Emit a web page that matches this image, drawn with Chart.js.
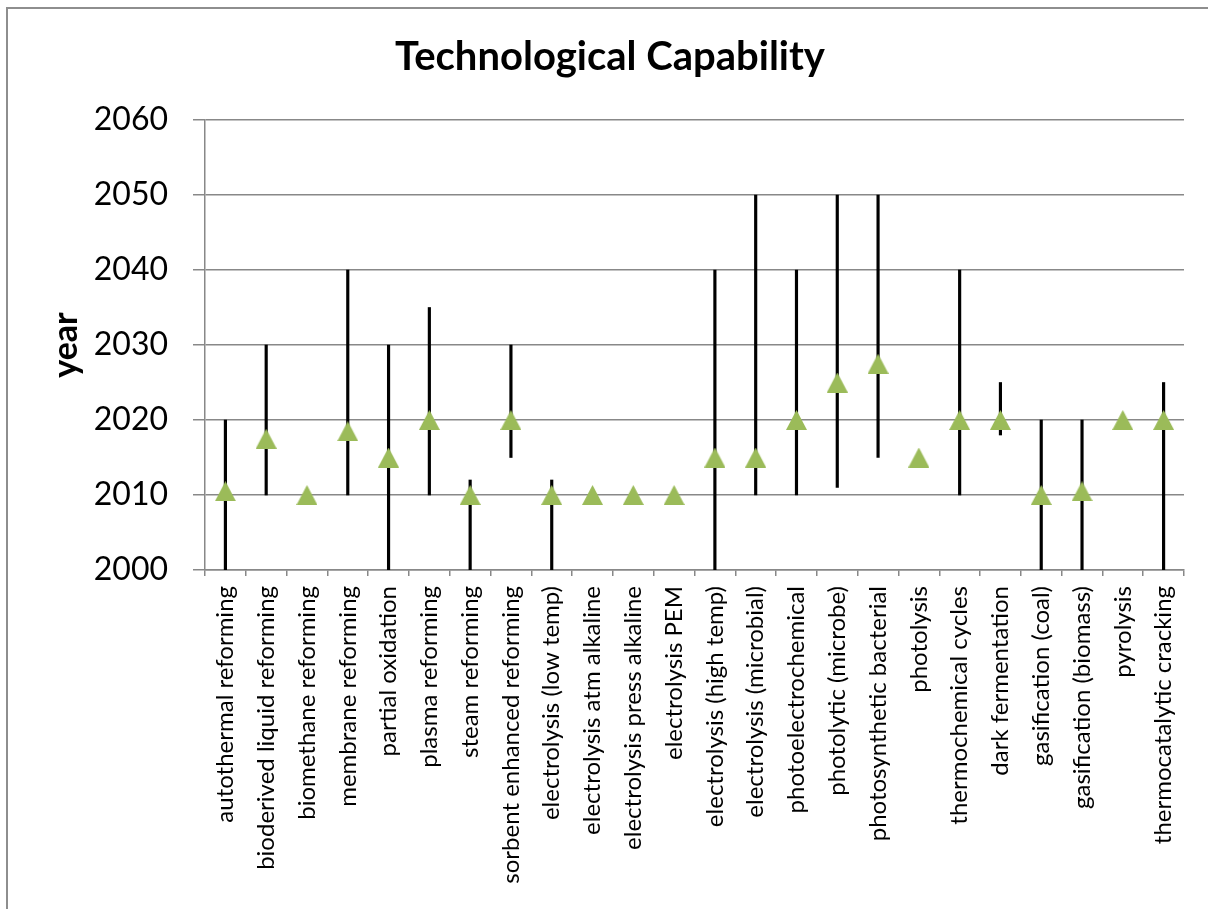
<!DOCTYPE html>
<html>
<head>
<meta charset="utf-8">
<script src="https://cdn.jsdelivr.net/npm/chart.js@4.4.1/dist/chart.umd.min.js"></script>
<style>
  html, body { margin: 0; padding: 0; background: #ffffff; }
  #wrap { position: relative; width: 1208px; height: 909px; overflow: hidden; }
  #frame { position: absolute; left: 6px; top: 7px; width: 1300px; height: 1000px;
           border-left: 2px solid #8e8e8e; border-top: 2px solid #8e8e8e; }
  #c { position: absolute; left: 0; top: 0; }
</style>
</head>
<body>
<div id="wrap">
  <div id="frame"></div>
  <canvas id="c" width="1208" height="909"></canvas>
</div>
<script>
const categories = [
  "autothermal reforming", "bioderived liquid reforming", "biomethane reforming",
  "membrane reforming", "partial oxidation", "plasma reforming", "steam reforming",
  "sorbent enhanced reforming", "electrolysis (low temp)", "electrolysis atm alkaline",
  "electrolysis press alkaline", "electrolysis PEM", "electrolysis (high temp)",
  "electrolysis (microbial)", "photoelectrochemical", "photolytic (microbe)",
  "photosynthetic bacterial", "photolysis", "thermochemical cycles", "dark fermentation",
  "gasification (coal)", "gasification (biomass)", "pyrolysis", "thermocatalytic cracking"
];
const capabilityYear = [2010.5, 2017.5, 2010, 2018.5, 2015, 2020, 2010, 2020, 2010, 2010, 2010, 2010,
                        2015, 2015, 2020, 2025, 2027.5, 2015, 2020, 2020, 2010, 2010.5, 2020, 2020];
const rangeLow  = [2000, 2010, null, 2010, 2000, 2010, 2000, 2015, 2000, null, null, null,
                   2000, 2010, 2010, 2011, 2015, null, 2010, 2018, 2000, 2000, null, 2000];
const rangeHigh = [2020, 2030, null, 2040, 2030, 2035, 2012, 2030, 2012, null, null, null,
                   2040, 2050, 2040, 2050, 2050, null, 2040, 2025, 2020, 2020, null, 2025];
const yMin = 2000, yMax = 2060, yStep = 10;
const chartTitle = "Technological Capability";
const yAxisTitle = "year";

function triangleImage(w, h, color) {
  const cv = document.createElement('canvas');
  cv.width = w; cv.height = h;
  const g = cv.getContext('2d');
  g.fillStyle = color;
  g.beginPath();
  g.moveTo(w / 2, 0);
  g.lineTo(w, h);
  g.lineTo(0, h);
  g.closePath();
  g.fill();
  return cv;
}

function build() {
  const ranges = rangeLow.map((lo, i) => (lo === null || rangeHigh[i] === null) ? null : [lo, rangeHigh[i]]);
  const tri = triangleImage(21, 20, '#9BBB59');
  const grey = '#888888';
  new Chart(document.getElementById('c'), {
    type: 'bar',
    data: {
      labels: categories,
      datasets: [
        {
          type: 'line',
          label: 'capability',
          data: capabilityYear,
          showLine: false,
          pointStyle: tri,
          pointRadius: 10,
          pointHoverRadius: 10,
          order: 0
        },
        {
          type: 'bar',
          label: 'range',
          data: ranges,
          backgroundColor: '#000000',
          borderWidth: 0,
          barThickness: 2.5,
          order: 1
        }
      ]
    },
    options: {
      responsive: false,
      animation: false,
      events: [],
      layout: { padding: { left: 36, right: 24, top: 0, bottom: 0 } },
      plugins: {
        legend: { display: false },
        tooltip: { enabled: false },
        title: {
          display: true,
          text: chartTitle,
          color: '#000000',
          font: { family: 'Lato', size: 40, weight: 'bold' },
          padding: { top: 33, bottom: 39 }
        }
      },
      scales: {
        x: {
          offset: true,
          grid: { offset: true, drawOnChartArea: false, drawTicks: true, tickLength: 6, color: grey, lineWidth: 1.5 },
          border: { display: true, color: grey, width: 1.5 },
          ticks: {
            autoSkip: false, minRotation: 90, maxRotation: 90, padding: 10,
            color: '#000000', font: { family: 'Lato', size: 24 }
          },
          afterFit: (s) => { s.height = 339; }
        },
        y: {
          min: yMin, max: yMax,
          grid: { color: grey, lineWidth: 1.5, tickLength: 12, drawTicks: true },
          border: { display: true, color: grey, width: 1.5 },
          ticks: {
            stepSize: yStep, padding: 25, color: '#000000',
            font: { family: 'Lato', size: 32 },
            callback: (v) => String(v)
          },
          title: {
            display: true, text: yAxisTitle, color: '#000000',
            font: { family: 'Lato', size: 34, weight: 'bold' },
            padding: { top: 10, bottom: 0 }
          },
          afterFit: (s) => { s.width = 169; }
        }
      }
    }
  });
}

Promise.all([
  document.fonts.load('24px Lato'),
  document.fonts.load('32px Lato'),
  document.fonts.load('bold 40px Lato')
]).then(build, build);
</script>
</body>
</html>
